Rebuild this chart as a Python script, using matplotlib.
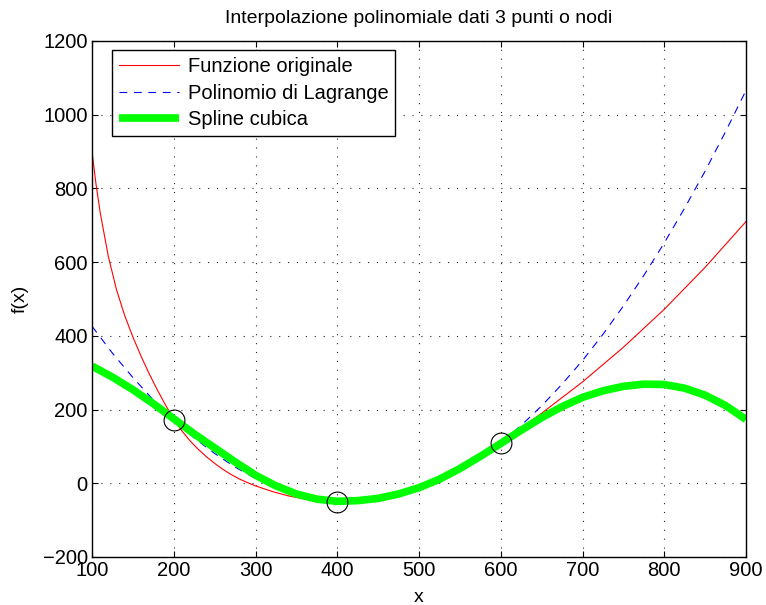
import matplotlib
matplotlib.use('Agg')
import matplotlib.pyplot as plt

plt.rcParams['font.family'] = ['Liberation Sans', 'DejaVu Sans']

# nodes
x_nodi = [200, 400, 600]
y_nodi = [173, -50, 110]

# original function
x_orig = [100, 105, 110, 120, 130, 140, 150, 160, 170, 180, 190, 200, 210, 220, 230, 240,
          250, 260, 270, 280, 290, 300, 320, 340, 360, 380, 400, 425, 450, 475, 500,
          525, 550, 575, 600, 650, 700, 750, 800, 850, 900]
y_orig = [900, 810, 735, 615, 525, 455, 397, 345, 297, 253, 212, 174, 142, 115, 92, 72,
          54, 38, 24, 12, 2, -7, -22, -34, -43, -48, -50, -47, -39, -26, -9,
          13, 40, 72, 110, 190, 275, 369, 472, 586, 710]

# Lagrange polynomial
x_lag = [100, 125, 150, 175, 200, 225, 250, 275, 300, 325, 350, 375, 400, 425, 450, 475,
         500, 525, 550, 575, 600, 625, 650, 675, 700, 725, 750, 775, 800, 825, 850, 875, 900]
y_lag = [426, 353, 287, 226, 172, 123, 81, 44, 13, -12, -30, -43, -50, -51, -46, -35,
         -18, 5, 34, 69, 110, 157, 210, 269, 333, 404, 481, 564, 652, 747, 847, 954, 1066]

# cubic spline
x_spl = [100, 125, 150, 175, 200, 225, 250, 275, 300, 325, 350, 375, 400, 425, 450, 475,
         500, 525, 550, 575, 600, 625, 650, 675, 700, 725, 750, 775, 800, 825, 850,
         875, 900]
y_spl = [318, 288, 254, 216, 175, 134, 96, 58, 22, -7, -29, -43, -49, -47, -41, -29,
         -12, 11, 40, 73, 108, 144, 178, 208, 233, 251, 263, 269, 268, 258, 239,
         211, 173]

fig = plt.figure(figsize=(7.66, 6.05), dpi=100)
ax = fig.add_axes([92/766, 48/605, 654/766, 516/605])

ax.plot(x_orig, y_orig, color='r', linewidth=0.8, label='Funzione originale')
ax.plot(x_lag, y_lag, color='b', linewidth=0.8, linestyle=(0, (7, 6)),
        label='Polinomio di Lagrange')
ax.plot(x_spl, y_spl, color=(0, 1, 0), linewidth=5.5, label='Spline cubica',
        solid_capstyle='butt')
ax.plot(x_nodi, y_nodi, 'o', markersize=15, markerfacecolor='none',
        markeredgecolor='k', markeredgewidth=0.8)

ax.set_xlim(100, 900)
ax.set_ylim(-200, 1200)
ax.set_xticks(range(100, 901, 100))
ax.set_yticks(range(-200, 1201, 200))
ax.set_yticklabels(['\u2212200' if v < 0 else str(v) for v in range(-200, 1201, 200)])
ax.tick_params(direction='in', length=4.5, width=0.8, top=True, right=True,
               labelsize=14.5, pad=3)
ax.grid(True, color='0.15', linestyle=(0, (1, 7)), linewidth=0.8)
for s in ax.spines.values():
    s.set_linewidth(1.0)

ax.set_title('Interpolazione polinomiale dati 3 punti o nodi', fontsize=14, pad=13)
ax.set_xlabel('x', fontsize=14, labelpad=6)
ax.set_ylabel('f(x)', fontsize=14, labelpad=10)

leg = ax.legend(loc='upper left', bbox_to_anchor=(0.0306, 0.9826), borderaxespad=0,
                fontsize=14.5, fancybox=False, framealpha=1, edgecolor='k',
                handlelength=3.0, handletextpad=0.4, labelspacing=0.38, borderpad=0.35)
leg.get_frame().set_linewidth(1.0)

fig.savefig('out.png', dpi=100)
